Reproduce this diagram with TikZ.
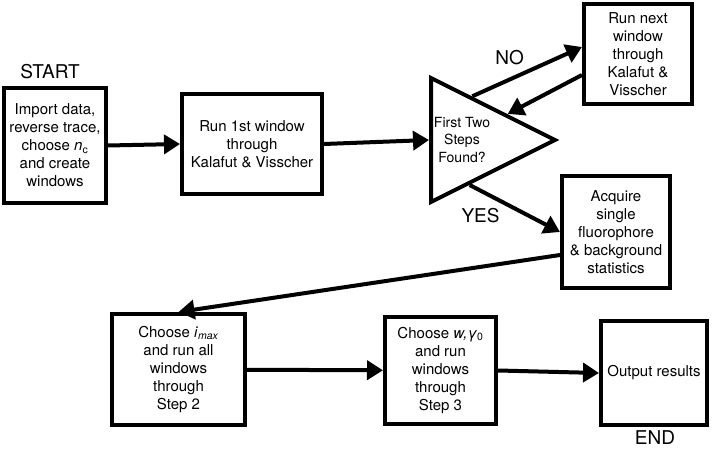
\documentclass[tikz,border=0pt]{standalone}
\usepackage{fontspec}
\setmainfont{TeX Gyre Heros}
\usetikzlibrary{arrows.meta}
\usetikzlibrary{calc}
\usetikzlibrary{shapes.geometric}

\begin{document}
\begin{tikzpicture}[x=1bp,y=-1bp,
        box/.style={draw, line width=4bp, align=center, inner sep=0pt,
            font=\fontsize{15bp}{18bp}\selectfont},
        flow/.style={-{Triangle[length=16bp,width=19bp]}, line width=4bp},
        tag/.style={font=\fontsize{19bp}{22bp}\selectfont}]
    \useasboundingbox (0,0) rectangle (712,450);
    % top row
    \node[tag] (start) at (50,72) {START};
    \node[box, minimum width=102bp, minimum height=115bp] (imp) at (55,145.5) {Import data,\\reverse trace,\\choose \textit{n}\textsubscript{c}\\and create\\windows};
    \node[box, minimum width=140bp, minimum height=100bp] (run1) at (252,144) {Run 1st window\\through\\Kalafut \& Visscher};
    \node[draw, line width=4bp, isosceles triangle, isosceles triangle stretches,
        minimum width=124bp, minimum height=124bp, inner sep=0pt, anchor=lower side] (tri) at (429,140) {};
    \node[align=center, font=\fontsize{14bp}{17.5bp}\selectfont] (found) at (462,140) {First Two\\Steps\\Found?};
    \node[box, minimum width=108bp, minimum height=100bp] (nxt) at (638,54) {Run next\\window\\through\\Kalafut \&\\Visscher};
    \node[box, minimum width=108bp, minimum height=112bp] (acq) at (616,232) {Acquire\\single\\fluorophore\\\& background\\statistics};
    % bottom row
    \node[box, minimum width=133bp, minimum height=111bp] (imax) at (178.5,369.5) {Choose \textit{i}\textsubscript{\textit{max}}\\and run all\\windows\\through\\Step 2};
    \node[box, minimum width=111bp, minimum height=107bp] (wstep) at (440.5,370.5) {Choose \textit{w,γ}\textsubscript{0}\\and run\\windows\\through\\Step 3};
    \node[box, minimum width=106bp, minimum height=104bp] (out) at (654,373) {Output results};
    \node[tag] (end) at (655,438) {END};
    % connectors
    \draw[flow] (imp.east) -- (run1.west);
    \draw[flow] (run1.east) -- (tri.lower side);
    \draw[flow] ($(tri.left corner)!0.33!(tri.apex)$) to node[pos=0.34, above=9bp, tag] {NO} ($(nxt.west)+(0,-7)$);
    \draw[flow] ($(nxt.west)+(0,21)$) -- ($(tri.left corner)!0.6!(tri.apex)$);
    \draw[flow] ($(tri.right corner)!0.31!(tri.apex)$) to node[pos=0.12, below=12bp, tag] {YES} (acq.west);
    \draw[flow] ($(acq.west)+(0,23)$) -- (imax.north);
    \draw[flow] (imax) -- (wstep);
    \draw[flow] (wstep.east) -- (out.west);
\end{tikzpicture}
\end{document}
